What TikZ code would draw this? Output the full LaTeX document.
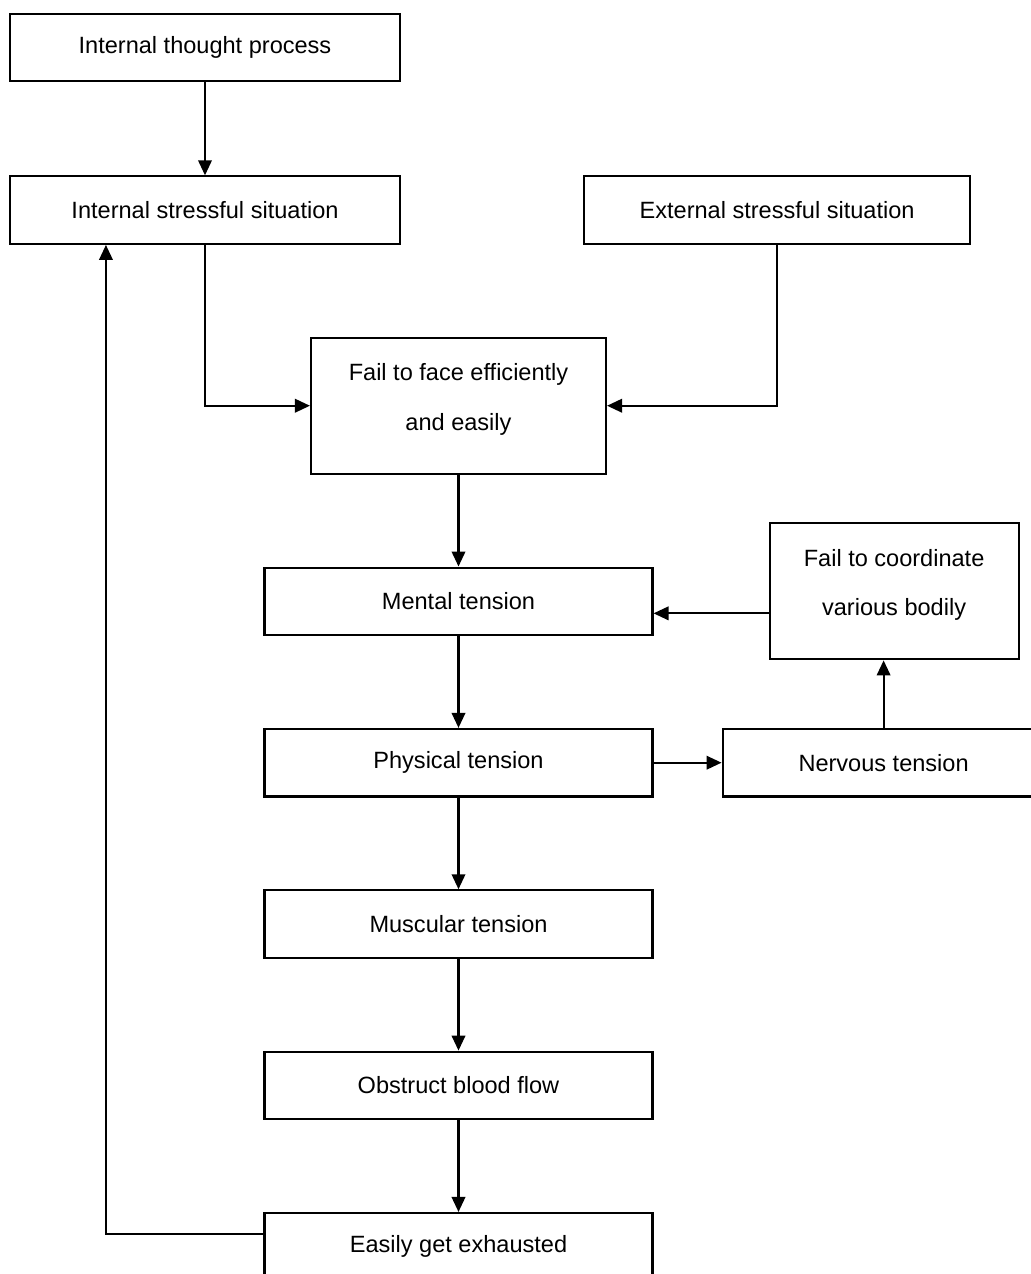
\documentclass[tikz,border=0pt]{standalone}
\usepackage{fontspec}
\setmainfont{Liberation Sans}
\usepackage{tikz}
\usetikzlibrary{positioning,arrows.meta}

\begin{document}
\begin{tikzpicture}[
  node distance=1.835cm and 2cm,
  box/.style={rectangle, draw, line width=1.2pt, align=center, font=\fontsize{13.4}{28}\selectfont, minimum width=7.76cm, minimum height=1.35cm, inner sep=0pt},
  bigbox/.style={box, minimum height=2.72cm, text depth=0.35cm},
  arrow/.style={-{Triangle[length=0.3cm,width=0.27cm]}, line width=1.2pt}
]
  \useasboundingbox (0,0) rectangle (20.6,-25.48);

  % Nodes
  \node[box, minimum width=7.8cm] (think) at (4.1,-0.95) {Internal thought process};
  \node[box, minimum width=7.8cm, below=1.86cm of think] (internal) {Internal stressful situation};
  \node[box, minimum width=7.72cm, right=3.64cm of internal] (external) {External stressful situation};
  \node[bigbox, minimum width=5.9cm, below=of internal, xshift=5.07cm] (fail) {Fail to face efficiently\\and easily};
  \node[box, below=of fail] (mental) {Mental tension};
  \node[bigbox, minimum width=4.98cm, right=2.3cm of mental, yshift=0.2cm] (coord) {Fail to coordinate\\various bodily};
  \node[box, below=of mental] (physical) {Physical tension};
  \node[box, minimum width=6.44cm, right=1.36cm of physical] (nervous) {Nervous tension};
  \node[box, below=of physical] (muscular) {Muscular tension};
  \node[box, below=of muscular] (blood) {Obstruct blood flow};
  \node[box, below=of blood] (exhausted) {Easily get exhausted};

  % Arrows
  \draw[arrow] (think) -- (internal);
  \draw[arrow] (internal.south) |- (fail.west);
  \draw[arrow] (external.south) |- (fail.east);
  \draw[arrow] (fail) -- (mental);
  \draw[arrow] ([yshift=-0.44cm]coord.west) -- ([yshift=-0.24cm]mental.east);
  \draw[arrow] (mental) -- (physical);
  \draw[arrow] (physical) -- (nervous);
  \draw[arrow] (nervous.north) -- (nervous.north |- coord.south);
  \draw[arrow] (physical) -- (muscular);
  \draw[arrow] (muscular) -- (blood);
  \draw[arrow] (blood) -- (exhausted);
  \draw[arrow] ([yshift=0.26cm]exhausted.west) -| ([xshift=1.94cm]internal.south west);
\end{tikzpicture}
\end{document}
